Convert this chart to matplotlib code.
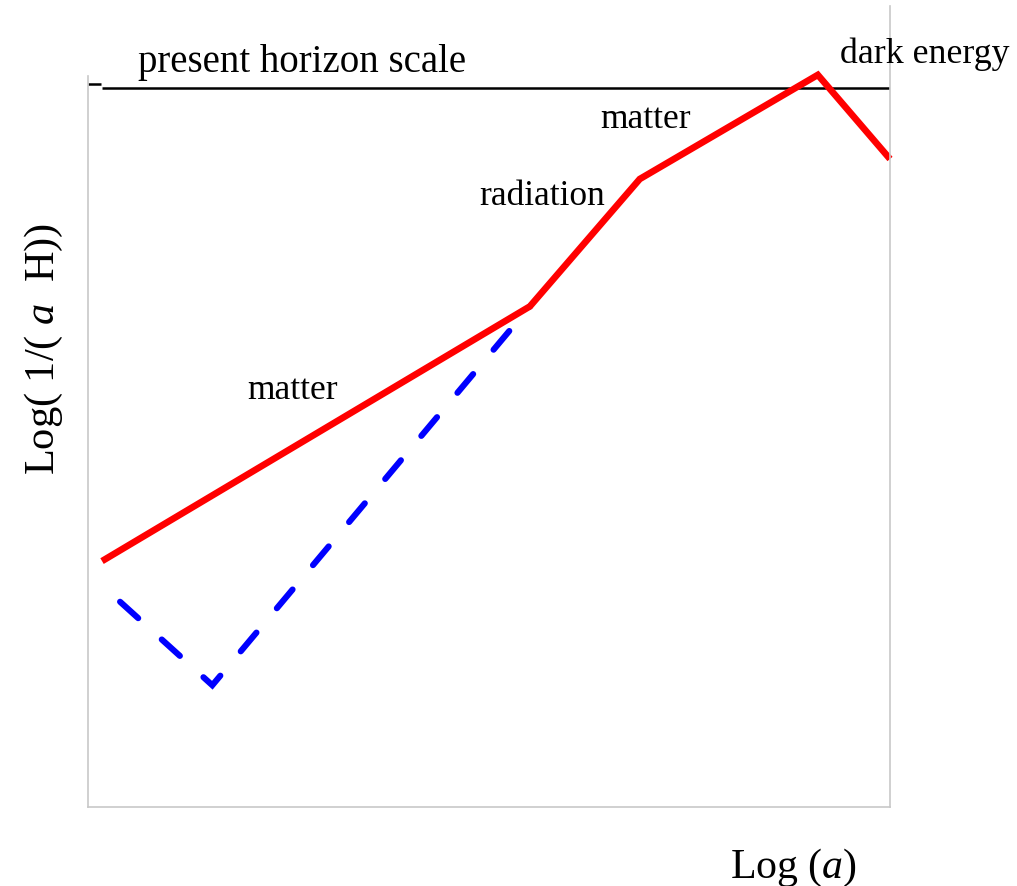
import matplotlib.pyplot as plt

plt.rcParams['font.family'] = ['Liberation Serif', 'DejaVu Serif']
plt.rcParams['mathtext.fontset'] = 'custom'
plt.rcParams['mathtext.rm'] = 'Liberation Serif'
plt.rcParams['mathtext.it'] = 'Liberation Serif:italic'

# log(a) vs log(1/(aH)), arbitrary units 0..10
red_x = [0.175, 5.51, 6.88, 9.10, 10.0]
red_y = [3.07, 6.25, 7.84, 9.14, 8.09]
blue_x = [0.27, 1.55, 5.51]
blue_y = [2.68, 1.52, 6.25]
horizon_y = 8.98

W, H = 1017, 887
fig = plt.figure(figsize=(W / 100, H / 100), dpi=100)
# axes box in pixels: left 88, right 890, top 7, bottom 808
ax = fig.add_axes([88 / W, 1 - 808 / H, (890 - 88) / W, (808 - 7) / H])
ax.set_xlim(0, 10)
ax.set_ylim(0, 10)
ax.set_xticks([])
ax.set_yticks([])
for s in ['left', 'right', 'bottom']:
    ax.spines[s].set_color('#c8c8c8')
    ax.spines[s].set_linewidth(1.2)
ax.spines['top'].set_visible(False)
ax.spines['left'].set_bounds(0, 9.13)

ax.plot([0.175, 10], [horizon_y, horizon_y], color='black', lw=1.8, solid_capstyle='butt')
ax.plot([0.0, 0.16], [9.02, 9.02], color='black', lw=1.8, solid_capstyle='butt')

ax.plot(blue_x, blue_y, color='blue', lw=4.4, linestyle=(6.9, (4.0, 5.2)), dash_capstyle='round',
        dash_joinstyle='miter')
ax.plot(red_x, red_y, color='red', lw=4.8, solid_joinstyle='miter', solid_capstyle='butt', clip_on=False)


def label(px, py, s, size, **kw):
    fig.text(px / W, 1 - py / H, s, fontsize=size, va='baseline', **kw)


label(138, 72, 'present horizon scale', 28)
label(840, 63, 'dark energy', 25.8)
label(600, 128, 'matter', 25.5)
label(479, 205, 'radiation', 25.5)
label(247, 399, 'matter', 25.5)
label(793, 878, 'Log ($a$)', 30.2, ha='center')
label(54, 349, 'Log( 1/( $a$  H))', 30.5, ha='center', rotation=90, rotation_mode='anchor')

fig.savefig('out.png', dpi=100)
